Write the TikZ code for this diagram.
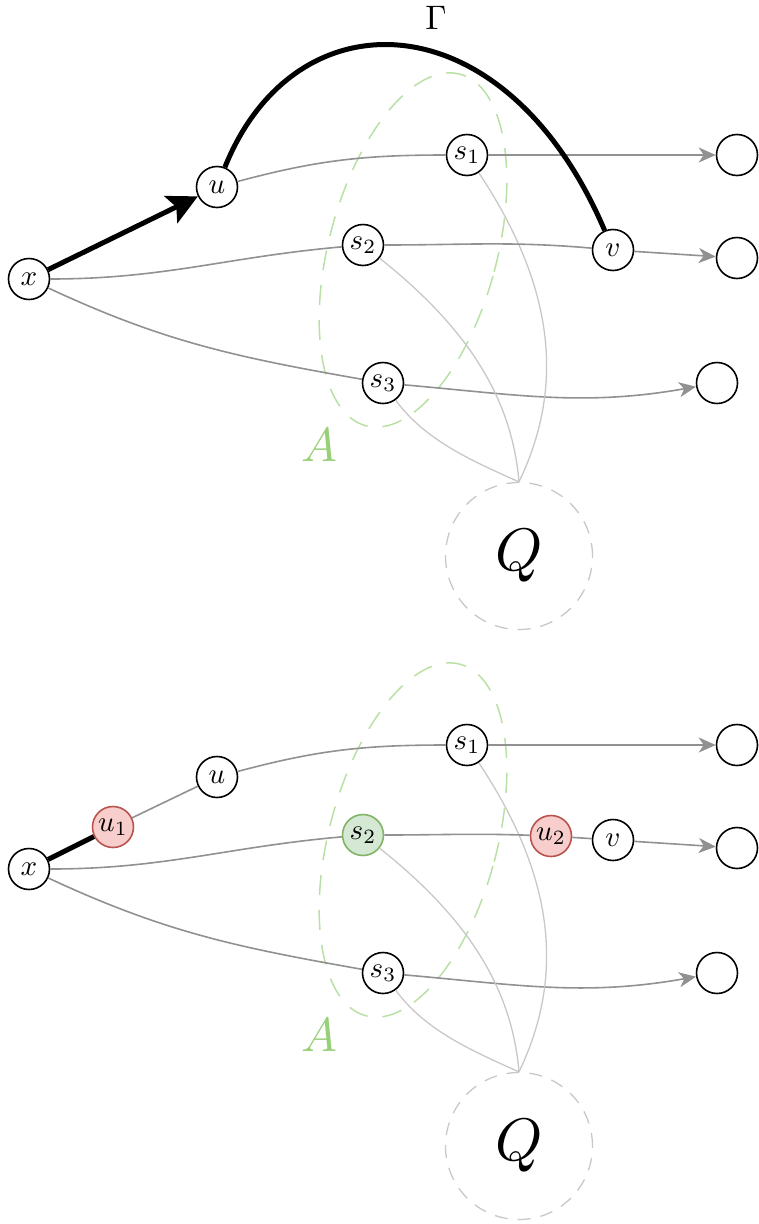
\documentclass[tikz,border=0pt]{standalone}
\usepackage{graphicx}
\usetikzlibrary{arrows.meta}
\definecolor{gline}{HTML}{919191}
\definecolor{lline}{HTML}{C8C8C8}
\definecolor{aGreen}{HTML}{97D077}
\definecolor{eGreen}{HTML}{B9E0A5}
\definecolor{rFill}{HTML}{F8CECC}
\definecolor{rDraw}{HTML}{B85450}
\definecolor{gFill}{HTML}{D5E8D4}
\definecolor{gDraw}{HTML}{82B366}
\newcommand\nt[1]{\scalebox{2.9}{$#1$}}
\tikzset{
  vtx/.style={circle, draw=black, line width=1.6pt, minimum size=41pt, inner sep=0pt, fill=white},
  redvtx/.style={vtx, draw=rDraw, fill=rFill},
  grnvtx/.style={vtx, draw=gDraw, fill=gFill},
  gedge/.style={draw=gline, line width=1.6pt},
  garr/.style={gedge, -{Stealth[length=17pt,width=15pt,inset=5pt]}},
  qedge/.style={draw=lline, line width=1.3pt},
  heavy/.style={draw=black, line width=5pt},
  qcirc/.style={circle, draw=lline, line width=1.3pt, dash pattern=on 13pt off 10pt, minimum size=147pt, inner sep=0pt},
  ellA/.style={draw=eGreen, line width=1.5pt, dash pattern=on 20pt off 15pt},
  alabel/.style={text=aGreen},
  glabel/.style={},
}
\newcommand\commonpart[2]{%
  % #1 suffix, #2 style of s2
  \draw[ellA, rotate around={-15:(413,-250)}] (413,-250) ellipse [x radius=84pt, y radius=182pt];
  \node[vtx] (x#1) at (29,-279) {\nt{x}};
  \node[vtx] (u#1) at (217,-187) {\nt{u}};
  \node[vtx] (sa#1) at (467,-155) {\nt{s_1}};
  \node[#2] (sb#1) at (363,-245) {\nt{s_2}};
  \node[vtx] (v#1) at (613,-250) {\nt{v}};
  \node[vtx] (sc#1) at (383,-383) {\nt{s_3}};
  \node[vtx] (ra#1) at (737,-155) {};
  \node[vtx] (rb#1) at (737,-258) {};
  \node[vtx] (rc#1) at (717,-383) {};
  \node[qcirc] (Q#1) at (519,-556) {\scalebox{6}{$Q$}};
  \node[alabel] (A#1) at (319,-445) {\scalebox{4.8}{$A$}};
  \draw[gedge] (u#1) to[out=15,in=180] (sa#1);
  \draw[garr] (sa#1) -- (ra#1);
  \draw[gedge] (x#1) to[out=0,in=185] (sb#1);
  \draw[gedge] (x#1) to[out=-25,in=170] (sc#1);
  \draw[garr] (sc#1) to[out=-5,in=190] (rc#1);
  \draw[garr] (v#1) -- (rb#1);
  \draw[qedge] (sa#1) .. controls (550,-280) and (568,-380) .. (Q#1.north);
  \draw[qedge] (sb#1) .. controls (470,-330) and (512,-400) .. (Q#1.north);
  \draw[qedge] (sc#1) .. controls (425,-440) and (470,-460) .. (Q#1.north);
}
\begin{document}
\begin{tikzpicture}[x=1pt,y=1pt]
\useasboundingbox (0,0) rectangle (759,-1224);
% top panel
\commonpart{t}{vtx}
\draw[gedge] (sbt) to[out=0,in=175] (vt);
\draw[heavy, -{Stealth[length=30pt,width=30pt,inset=6pt]}] (xt) -- (ut);
\draw[heavy] (ut) .. controls (295,8) and (505,3) .. (vt);
\node[glabel] (G) at (436,-18) {\scalebox{3.4}{$\Gamma$}};
% bottom panel
\begin{scope}[yshift=-590pt]
\commonpart{b}{grnvtx}
\node[redvtx] (uab) at (113,-237) {\nt{u_1}};
\node[redvtx] (ubb) at (551,-246) {\nt{u_2}};
\draw[heavy] (xb) -- (uab);
\draw[gedge] (uab) -- (ub);
\draw[gedge] (sbb) to[out=0,in=178] (ubb);
\draw[gedge] (ubb) -- (vb);
\end{scope}
\end{tikzpicture}
\end{document}
